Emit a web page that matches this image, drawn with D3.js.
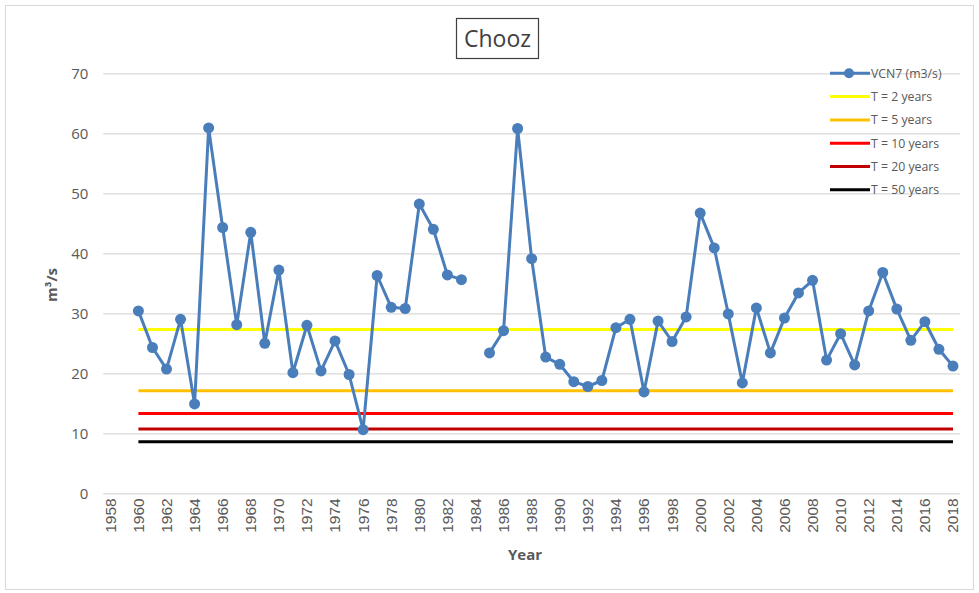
<!DOCTYPE html>
<html>
<head>
<meta charset="utf-8">
<script src="https://cdn.jsdelivr.net/npm/d3@7"></script>
<style>
  body { margin: 0; background: #fff; }
  svg { display: block; font-family: "Open Sans", "Liberation Sans", sans-serif; }
</style>
</head>
<body>
<svg id="chart" width="979" height="593"></svg>
<script>
(function(){
    'use strict';

    // Data
    const title = 'Chooz';
    const categories = d3.range(1958, 2019);
    const years = d3.range(1960, 2019);
    const vcn7 = [
        30.4, 24.3, 20.7, 29.0, 14.9, 60.9, 44.3, 28.1, 43.5, 25.0,
        37.2, 20.1, 28.0, 20.4, 25.4, 19.8, 10.6, 36.3, 31.0, 30.8,
        48.2, 44.0, 36.4, 35.6, null, 23.4, 27.1, 60.8, 39.1, 22.7,
        21.5, 18.6, 17.8, 18.8, 27.6, 29.0, 16.9, 28.7, 25.3, 29.4,
        46.7, 40.9, 29.9, 18.4, 30.9, 23.4, 29.2, 33.4, 35.5, 22.2,
        26.6, 21.4, 30.4, 36.8, 30.7, 25.5, 28.6, 24.0, 21.2
    ];
    const thresholdLabels = ['T = 2 years', 'T = 5 years', 'T = 10 years', 'T = 20 years', 'T = 50 years'];
    const thresholdValues = [27.3, 17.1, 13.3, 10.7, 8.6];
    const yTicks = [0, 10, 20, 30, 40, 50, 60, 70];

    // Styles
    const seriesColor = '#4a7ebb';
    const thresholdColors = ['#ffff00', '#ffc000', '#ff0000', '#c00000', '#000000'];
    const textColor = '#595959';
    const gridColor = '#d9d9d9';

    const svg = d3.select('#chart');
    const plot = {left: 103.3, right: 960, top: 73.3, bottom: 493.3};

    const x = d3.scaleBand()
        .domain(categories)
        .range([plot.left, plot.right]);
    const cx = d => x(d) + x.bandwidth() / 2;

    const y = d3.scaleLinear()
        .domain([0, 70])
        .range([plot.bottom, plot.top]);

    // chart frame
    svg.append('rect')
        .attr('x', 5.5).attr('y', 5.5)
        .attr('width', 968).attr('height', 584)
        .attr('fill', 'none')
        .attr('stroke', '#d9d9d9');

    // y axis with gridlines
    svg.append('g')
        .attr('transform', `translate(${plot.left}, 0)`)
        .call(d3.axisLeft(y).tickValues(yTicks).tickSize(-(plot.right - plot.left)).tickPadding(15))
        .call(g => g.select('.domain').remove())
        .call(g => g.selectAll('.tick line').attr('stroke', gridColor).attr('stroke-width', 1.3))
        .call(g => g.selectAll('.tick text')
            .attr('fill', textColor)
            .attr('font-size', 15)
            .attr('font-family', '"Open Sans", sans-serif'));

    // x axis labels
    svg.append('g')
        .attr('transform', `translate(0, ${plot.bottom})`)
        .call(d3.axisBottom(x).tickValues(categories.filter(c => c % 2 === 0)).tickSize(0).tickPadding(0))
        .call(g => g.select('.domain').remove())
        .call(g => g.selectAll('.tick text')
            .attr('fill', textColor)
            .attr('font-size', 15.5)
            .attr('font-family', '"Liberation Sans", "DejaVu Sans", sans-serif')
            .attr('text-anchor', 'end')
            .attr('dy', '0.35em')
            .attr('transform', 'translate(0, 5) rotate(-90)')
            .attr('x', 0).attr('y', 0));

    // threshold lines
    svg.append('g')
        .selectAll('line')
        .data(thresholdValues)
        .enter()
        .append('line')
            .attr('x1', cx(years[0]))
            .attr('x2', cx(years[years.length - 1]))
            .attr('y1', d => y(d))
            .attr('y2', d => y(d))
            .attr('stroke', (d, i) => thresholdColors[i])
            .attr('stroke-width', 3);

    // VCN7 series
    const points = years.map((yr, i) => ({year: yr, value: vcn7[i]}));
    const line = d3.line()
        .defined(d => d.value !== null)
        .x(d => cx(d.year))
        .y(d => y(d.value));

    svg.append('path')
        .datum(points)
        .attr('fill', 'none')
        .attr('stroke', seriesColor)
        .attr('stroke-width', 3)
        .attr('stroke-linejoin', 'round')
        .attr('d', line);

    svg.append('g')
        .attr('fill', seriesColor)
        .selectAll('circle')
        .data(points.filter(d => d.value !== null))
        .enter()
        .append('circle')
            .attr('cx', d => cx(d.year))
            .attr('cy', d => y(d.value))
            .attr('r', 5.5);

    // title
    svg.append('rect')
        .attr('x', 456.5).attr('y', 18.5)
        .attr('width', 82).attr('height', 40)
        .attr('fill', '#fff')
        .attr('stroke', '#404040')
        .attr('stroke-width', 1.2);
    svg.append('text')
        .attr('x', 497.5).attr('y', 39)
        .attr('dy', '0.35em')
        .attr('text-anchor', 'middle')
        .attr('font-size', 23)
        .attr('fill', '#404040')
        .text(title);

    // axis titles
    svg.append('text')
        .attr('transform', 'translate(52, 285) rotate(-90)')
        .attr('dy', '0.35em')
        .attr('text-anchor', 'middle')
        .attr('font-size', 15)
        .attr('font-weight', 'bold')
        .attr('fill', textColor)
        .text('m³/s');
    svg.append('text')
        .attr('x', 525).attr('y', 555)
        .attr('dy', '0.35em')
        .attr('text-anchor', 'middle')
        .attr('font-size', 15)
        .attr('font-weight', 'bold')
        .attr('fill', textColor)
        .text('Year');

    // legend
    const legendItems = [{label: 'VCN7 (m3/s)', color: seriesColor, marker: true}]
        .concat(thresholdLabels.map((l, i) => ({label: l, color: thresholdColors[i], marker: false})));
    const legend = svg.append('g').attr('transform', 'translate(830, 73.3)');
    const rows = legend.selectAll('g')
        .data(legendItems)
        .enter()
        .append('g')
            .attr('transform', (d, i) => `translate(0, ${i * 23.3})`);
    rows.append('line')
        .attr('x1', 0).attr('x2', 40)
        .attr('stroke', d => d.color)
        .attr('stroke-width', 3);
    rows.filter(d => d.marker)
        .append('circle')
        .attr('cx', 19).attr('r', 5)
        .attr('fill', d => d.color);
    rows.append('text')
        .attr('x', 41)
        .attr('dy', '0.35em')
        .attr('font-size', 12.3)
        .attr('fill', textColor)
        .text(d => d.label);
})();
</script>
</body>
</html>
